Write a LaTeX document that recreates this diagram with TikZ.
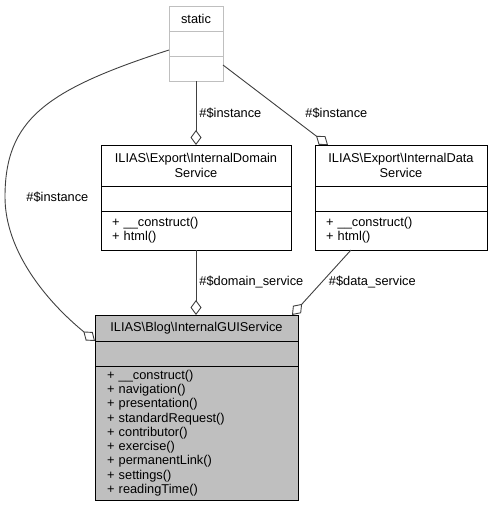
\documentclass[tikz,border=0pt]{standalone}
\usepackage{fontspec}
\setmainfont{Liberation Sans}
\usetikzlibrary{positioning, arrows.meta}

\definecolor{edgegray}{HTML}{404040}
\definecolor{boxgray}{HTML}{BFBFBF}
\newcommand{\umlfont}{\fontsize{12.8}{14.25}\selectfont}

\begin{document}
\begin{tikzpicture}[
        x=1pt,
        y=1pt,
        font=\umlfont,
        part/.style={
            rectangle,
            draw,
            fill=white,
            line width=1pt,
            inner sep=0pt,
            outer sep=0pt,
            minimum height=25pt,
            align=center
        },
        opsbox/.style={
            part,
            align=left,
            inner xsep=11pt
        },
        staticbox/.style={
            draw=boxgray,
            minimum width=54pt
        },
        focus/.style={
            fill=boxgray
        },
        assoc/.style={
            -{Diamond[open, length=15pt, width=11pt]},
            draw=edgegray,
            line width=0.9pt
        },
        lbl/.style={
            inner sep=3pt
        }
    ]

    \useasboundingbox (0,0) rectangle (493,-515);

    % --------------------------------------------------------
    % static
    % --------------------------------------------------------

    \node[part, staticbox, anchor=north] (stitle)
        at (196,-6) {static};

    \node[part, staticbox, below=0pt of stitle] (sattr) {};

    \node[part, staticbox, below=0pt of sattr] (sops) {};

    % --------------------------------------------------------
    % Export services
    % --------------------------------------------------------

    \node[part, minimum width=190pt, minimum height=41pt,
        below=64pt of sops] (dtitle)
        {ILIAS\textbackslash Export\textbackslash InternalDomain\\Service};

    \node[part, minimum width=190pt, below=0pt of dtitle] (dattr) {};

    \node[opsbox, text width=168pt, minimum height=39pt,
        below=0pt of dattr] (dops)
        {+ \_\_construct()\\+ html()};

    \node[part, minimum width=172pt, minimum height=41pt,
        right=24pt of dtitle] (atitle)
        {ILIAS\textbackslash Export\textbackslash InternalData\\Service};

    \node[part, minimum width=172pt, below=0pt of atitle] (aattr) {};

    \node[opsbox, text width=150pt, minimum height=39pt,
        below=0pt of aattr] (aops)
        {+ \_\_construct()\\+ html()};

    % --------------------------------------------------------
    % Blog GUI service
    % --------------------------------------------------------

    \node[part, focus, minimum width=203pt, minimum height=26pt,
        below=65pt of dops, xshift=0.5pt] (gtitle)
        {ILIAS\textbackslash Blog\textbackslash InternalGUIService};

    \node[part, focus, minimum width=203pt, below=0pt of gtitle] (gattr) {};

    \node[opsbox, focus, inner xsep=12pt, text width=179pt,
        minimum height=134pt, below=0pt of gattr] (gops)
        {+ \_\_construct()\\
        + navigation()\\
        + presentation()\\
        + standardRequest()\\
        + contributor()\\
        + exercise()\\
        + permanentLink()\\
        + settings()\\
        + readingTime()};

    % --------------------------------------------------------
    % Associations
    % --------------------------------------------------------

    % static -> domain service
    \draw[assoc]
        (sops)
        -- node[lbl, right] {\#\$instance}
        (dtitle);

    % static -> data service
    \draw[assoc]
        ([yshift=3.5pt]sops.east)
        -- node[lbl, pos=0.6, right=16pt] {\#\$instance}
        ([xshift=13pt]atitle.north west);

    % static -> GUI service
    \coordinate (bend) at (5,-197);

    \draw[assoc]
        ([yshift=-6.5pt]sattr.west)
        .. controls (45,-90) and (5,-120) ..
        (bend) node[lbl, right=18pt] {\#\$instance}
        .. controls (5,-250) and (45,-300) ..
        (gattr.north west);

    % domain service -> GUI service
    \draw[assoc]
        (dops)
        -- node[lbl, right] {\#\$domain\_service}
        (dops |- gtitle.north);

    % data service -> GUI service
    \draw[assoc]
        ([xshift=-50pt]aops.south)
        -- node[lbl, right=4pt] {\#\$data\_service}
        ([xshift=-6pt]gtitle.north east);

\end{tikzpicture}
\end{document}
